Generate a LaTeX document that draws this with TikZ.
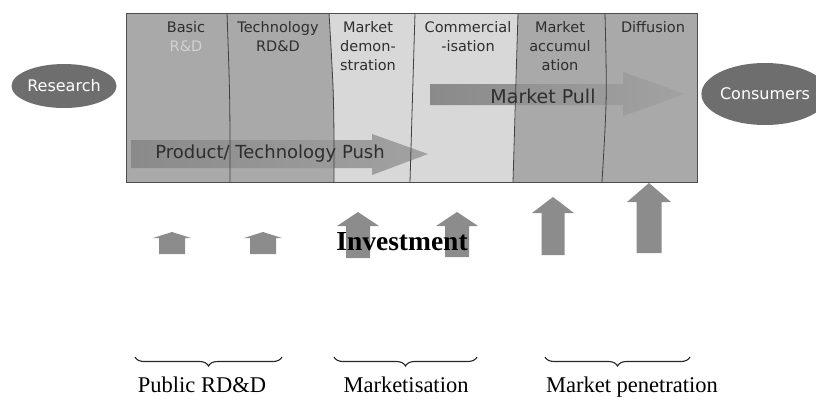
\documentclass[tikz,border=0pt]{standalone}
\usepackage{fontspec}
\setmainfont{Liberation Serif}
\newfontfamily\stagefont{DejaVu Sans}
\usetikzlibrary{decorations.pathreplacing,shapes.geometric}

\definecolor{stagegray}{HTML}{A9A9A9}
\definecolor{stagelight}{HTML}{D8D8D8}
\definecolor{pushdark}{HTML}{8A8A8A}
\definecolor{pushlight}{HTML}{A2A2A2}
\definecolor{ovalgray}{HTML}{6E6E6E}
\definecolor{investgray}{HTML}{8C8C8C}
\definecolor{stagetext}{HTML}{2E2E2E}
\definecolor{fadedtext}{HTML}{D2D2D2}

% upward investment arrow: x centre, tip y, head base y, bottom y, half shaft, half head
\newcommand{\InvestArrow}[6]{%
  \fill[investgray] ({#1-#5},#4) -- ({#1-#5},#3) -- ({#1-#6},#3) -- (#1,#2)
    -- ({#1+#6},#3) -- ({#1+#5},#3) -- ({#1+#5},#4) -- cycle;}

\begin{document}
\begin{tikzpicture}[x=1pt,y=-1pt,
  stagelabel/.style={font=\stagefont\fontsize{14.5}{20}\selectfont, text=stagetext,
    align=center, anchor=north, inner sep=0pt},
  divider/.style={draw=black!75, line width=0.8pt},
  oval/.style={ellipse, fill=ovalgray, text=white, inner sep=0pt,
    font=\stagefont\fontsize{16}{18}\selectfont},
  flowtext/.style={text=stagetext, inner sep=0pt},
  groupbrace/.style={draw=black!85, line width=1.1pt,
    decorate, decoration={brace, mirror, amplitude=9pt}},
  grouplabel/.style={font=\fontsize{22.5}{24}\selectfont, anchor=base, inner sep=0pt}]

\useasboundingbox (0,0) rectangle (816,399);
\clip (0,0) rectangle (816,399);

% column boundaries (top, middle, bottom)
\coordinate (d0t) at (126,13);  \coordinate (d0b) at (126,182);
\coordinate (d1t) at (227,13);  \coordinate (d1m) at (230,98);  \coordinate (d1b) at (230,182);
\coordinate (d2t) at (329,13);  \coordinate (d2m) at (334,98);  \coordinate (d2b) at (334,182);
\coordinate (d3t) at (415,13);  \coordinate (d3m) at (412,98);  \coordinate (d3b) at (410,182);
\coordinate (d4t) at (518,13);  \coordinate (d4m) at (516,98);  \coordinate (d4b) at (513,182);
\coordinate (d5t) at (605,13);  \coordinate (d5m) at (607,98);  \coordinate (d5b) at (602,182);
\coordinate (d6t) at (697,13);  \coordinate (d6b) at (697,182);

% stage band
\fill[stagegray] (d0t) rectangle (d6b);
\fill[stagelight] (d2t) -- (d4t) -- (d4m) -- (d4b) -- (d2b) -- (d2m) -- cycle;

% push and pull arrows
\shade[left color=pushdark, right color=pushlight]
  (131,140) -- (372,140) -- (372,134) -- (428,154) -- (372,175) -- (372,168) -- (131,168) -- cycle;
\shade[left color=pushdark, right color=pushlight]
  (430,84) -- (623,84) -- (623,72) -- (685,94) -- (623,116) -- (623,105) -- (430,105) -- cycle;

% column dividers and frame
\draw[divider] (d1t) .. controls (d1m) .. (d1b);
\draw[divider] (d2t) .. controls (d2m) .. (d2b);
\draw[divider] (d3t) .. controls (d3m) .. (d3b);
\draw[divider] (d4t) .. controls (d4m) .. (d4b);
\draw[divider] (d5t) .. controls (d5m) .. (d5b);
\draw[draw=black!70, line width=0.9pt] (d0t) rectangle (d6b);

% stage names
\node[stagelabel] (basic) at (186,21) {Basic\\[-1pt]\textcolor{fadedtext}{R\&D}};
\node[stagelabel] (techrdd) at (278,21) {Technology\\[-1pt]RD\&D};
\node[stagelabel] (mdemo) at (368,21) {Market\\[-1pt]demon-\\[-1pt]stration};
\node[stagelabel] (commerc) at (468,21) {Commercial\\[-1pt]-isation};
\node[stagelabel] (maccum) at (560,21) {Market\\[-1pt]accumul\\[-1pt]ation};
\node[stagelabel] (diffusion) at (653,21) {Diffusion};

\node[flowtext, font=\stagefont\fontsize{18}{20}\selectfont] (pushtext) at (270,154) {Product/ Technology Push};
\node[flowtext, font=\stagefont\fontsize{19}{21}\selectfont] (pulltext) at (543,96) {Market Pull};

% end points
\node[oval, minimum width=105pt, minimum height=44pt] (research) at (64,86) {Research};
\node[oval, minimum width=126pt, minimum height=62pt] (consumers) at (765,94) {Consumers};

% investment arrows
\InvestArrow{172}{232}{238}{254}{13}{19}
\InvestArrow{263}{232}{238}{254}{13}{19}
\InvestArrow{358}{212}{226}{258}{12}{21}
\InvestArrow{457}{212}{226}{257}{12}{21}
\InvestArrow{553}{197}{213}{255}{11.5}{21}
\InvestArrow{649}{183}{202}{253}{12.5}{22}

\node[font=\bfseries\fontsize{27.5}{30}\selectfont, anchor=base, inner sep=0pt] (invest) at (402,250) {Investment};

% funding groups
\coordinate (b1l) at (135,357); \coordinate (b1r) at (282,357);
\coordinate (b2l) at (334,357); \coordinate (b2r) at (477,357);
\coordinate (b3l) at (545,357); \coordinate (b3r) at (690,357);
\draw[groupbrace] (b1l) -- (b1r);
\draw[groupbrace] (b2l) -- (b2r);
\draw[groupbrace] (b3l) -- (b3r);

\node[grouplabel] (public) at (202,392) {Public RD\&D};
\node[grouplabel] (marketis) at (406,392) {Marketisation};
\node[grouplabel] (penetr) at (632,392) {Market penetration};
\end{tikzpicture}
\end{document}
